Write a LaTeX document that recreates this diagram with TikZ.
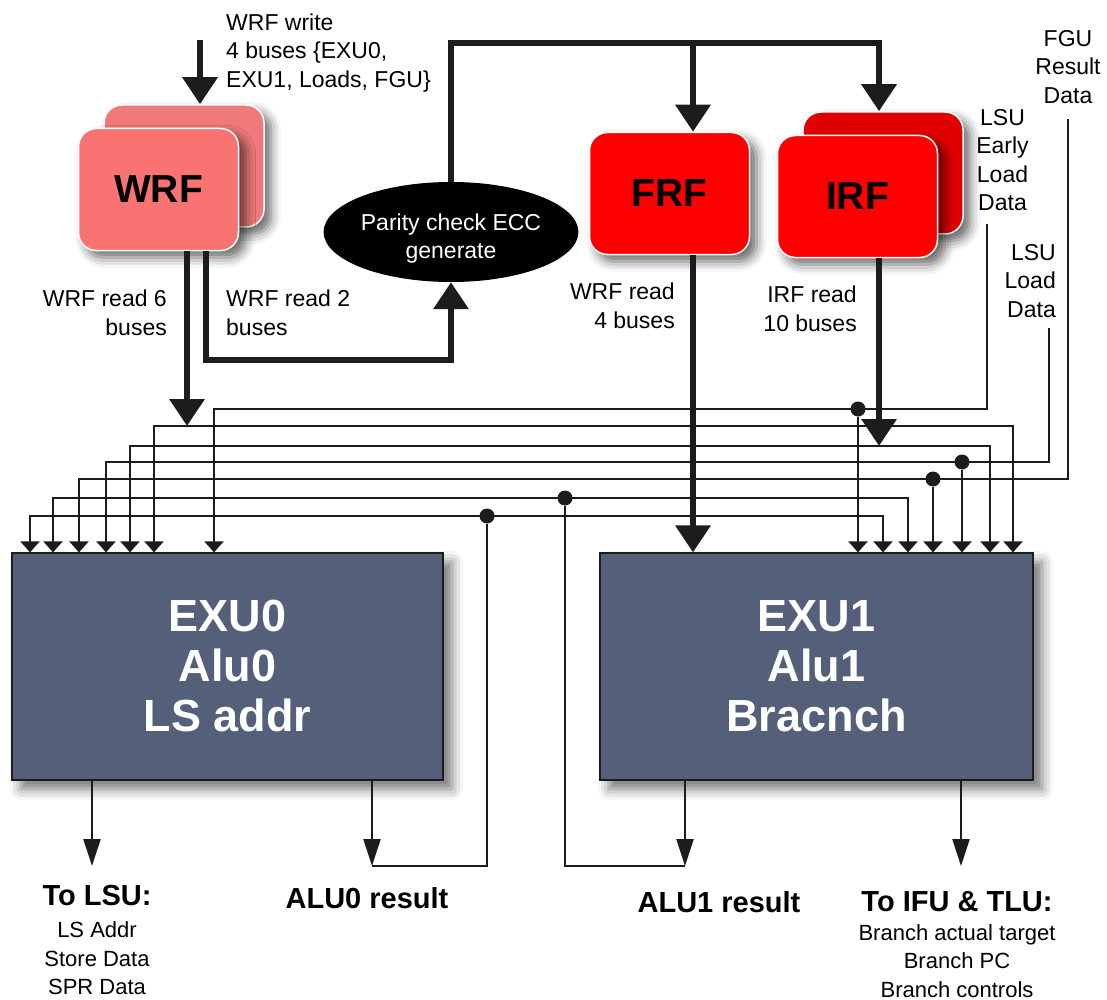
\documentclass[tikz,border=0pt]{standalone}
\usepackage{fontspec}
\setmainfont{Liberation Sans}
\usetikzlibrary{arrows.meta,shapes.geometric,shadows.blur}

\definecolor{ink}{RGB}{28,28,28}
\definecolor{wrffront}{RGB}{250,115,115}
\definecolor{wrfback}{RGB}{240,122,122}
\definecolor{rfred}{RGB}{255,0,0}
\definecolor{rfback}{RGB}{225,0,0}
\definecolor{exublue}{RGB}{84,96,121}

\begin{document}
\begin{tikzpicture}[x=1pt,y=-1pt,
  rf/.style={rounded corners=18pt, draw=white, line width=1.5pt, minimum width=160pt, minimum height=122pt,
    font=\fontsize{39}{44}\selectfont\bfseries,
    blur shadow={shadow xshift=7pt, shadow yshift=-7pt, shadow blur radius=10pt, shadow opacity=60}},
  exu/.style={draw=ink, line width=1.2pt, fill=exublue, text=white, minimum height=227pt, align=center,
    font=\fontsize{45}{50}\selectfont\bfseries,
    blur shadow={shadow xshift=9pt, shadow yshift=-9pt, shadow blur radius=11pt, shadow opacity=55}},
  lbl/.style={inner sep=0pt, font=\fontsize{23}{28.5}\selectfont},
  small/.style={inner sep=0pt, align=center, font=\fontsize{22}{28.5}\selectfont},
  head/.style={inner sep=0pt, font=\fontsize{29}{34}\selectfont\bfseries},
  big/.style={draw=ink, line width=6.5pt, -{Triangle[width=34pt,length=27pt]}},
  bus/.style={draw=ink, line width=2.2pt},
  busin/.style={bus, -{Triangle[width=19pt,length=11pt]}},
  busboth/.style={bus, {Triangle[width=19pt,length=11pt]}-{Triangle[width=19pt,length=11pt]}},
  outarr/.style={bus, -{Triangle[width=17pt,length=27pt]}},
  dot/.style={circle, fill=ink, inner sep=0pt, minimum size=15pt}]

  \useasboundingbox (0,0) rectangle (1107,1000);

  % register files
  \node[rf, fill=wrfback] (wrfback) at (184,166) {};
  \node[rf, fill=wrffront] (wrf) at (158.5,189.5) {WRF};
  \node[rf, fill=rfred] (frf) at (669.5,193.5) {FRF};
  \node[rf, fill=rfback] (irfback) at (883,173) {};
  \node[rf, fill=rfred] (irf) at (857.5,196.5) {IRF};
  \node[ellipse, fill=black, text=white, minimum width=220pt, minimum height=100pt, inner sep=0pt,
    align=center, font=\fontsize{23}{28.5}\selectfont] (parity) at (451,232)
    {\rule{0pt}{30pt}Parity check ECC\\generate};

  % execution units
  \node[exu, minimum width=431pt] (exu0) at (227.5,666.5) {EXU0\\Alu0\\LS addr};
  \node[exu, minimum width=433pt] (exu1) at (816.5,666.5) {EXU1\\Alu1\\Bracnch};

  % labels
  \node[lbl, align=left, anchor=west] (wrfwrite) at (226,53) {WRF write\\4 buses \{EXU0,\\EXU1, Loads, FGU\}};
  \node[lbl, align=right, anchor=east] (wrfread6) at (167,313) {WRF read 6\\buses};
  \node[lbl, align=left, anchor=west] (wrfread2) at (226,313) {WRF read 2\\buses};
  \node[lbl, align=right, anchor=east] (frfread) at (675,306) {WRF read\\4 buses};
  \node[lbl, align=right, anchor=east] (irfread) at (857,309) {IRF read\\10 buses};
  \node[lbl, align=center] (fgulbl) at (1068,67) {FGU\\Result\\Data};
  \node[lbl, align=center] (lsuelbl) at (1002.5,160) {LSU\\Early\\Load\\Data};
  \node[lbl, align=right, anchor=east] (lsullbl) at (1056,281) {LSU\\Load\\Data};

  \node[head] (tolsulbl) at (97,896) {To LSU:};
  \node[small] (lsulist) at (97,958.5) {LS Addr\\Store Data\\SPR Data};
  \node[head] (alu0lbl) at (367,898) {ALU0 result};
  \node[head] (alu1lbl) at (719,902) {ALU1 result};
  \node[head] (toifulbl) at (957,902) {To IFU \& TLU:};
  \node[small] (ifulist) at (957,961) {Branch actual target\\Branch PC\\Branch controls};

  % bus corners
  \coordinate (l1) at (214,409);
  \coordinate (l2) at (154,426);
  \coordinate (l3) at (130,446);
  \coordinate (l4) at (106,462);
  \coordinate (l5) at (79,479);
  \coordinate (l6) at (53,498);
  \coordinate (l7) at (30,516);
  \coordinate (r2) at (1013,426);
  \coordinate (r3) at (990,446);
  \coordinate (r6) at (908,498);
  \coordinate (r7) at (883,516);
  \coordinate (lsue) at (987,224);
  \coordinate (lsul) at (1049,328);
  \coordinate (fgu) at (1068,119);

  \node[dot] (d1) at (858,409) {};
  \node[dot] (d4) at (962,462) {};
  \node[dot] (d5) at (933,479) {};
  \node[dot] (d6) at (565,498) {};
  \node[dot] (d7) at (487,516) {};

  \draw[busin] (lsue) |- (l1) -- (l1 |- exu0.north);
  \draw[busboth] (l2 |- exu0.north) -- (l2) -- (r2) -- (r2 |- exu1.north);
  \draw[busboth] (l3 |- exu0.north) -- (l3) -- (r3) -- (r3 |- exu1.north);
  \draw[busin] (lsul) |- (l4) -- (l4 |- exu0.north);
  \draw[busin] (fgu) |- (l5) -- (l5 |- exu0.north);
  \draw[busboth] (l6 |- exu0.north) -- (l6) -- (r6) -- (r6 |- exu1.north);
  \draw[busboth] (l7 |- exu0.north) -- (l7) -- (r7) -- (r7 |- exu1.north);
  \draw[busin] (d1) -- (d1 |- exu1.north);
  \draw[busin] (d4) -- (d4 |- exu1.north);
  \draw[busin] (d5) -- (d5 |- exu1.north);

  % outputs
  \coordinate (tolsu) at (92,866);
  \coordinate (alu0) at (372,866);
  \coordinate (alu1) at (685,866);
  \coordinate (toifu) at (961,866);
  \draw[outarr] (tolsu |- exu0.south) -- (tolsu);
  \draw[outarr] (alu0 |- exu0.south) -- (alu0);
  \draw[outarr] (alu1 |- exu1.south) -- (alu1);
  \draw[outarr] (toifu |- exu1.south) -- (toifu);
  \draw[bus] (d7) |- (alu0);
  \draw[bus] (d6) |- (alu1);

  % wide paths
  \coordinate (wrfin) at (200,40);
  \coordinate (w6) at (187,426);
  \coordinate (w2) at (206,360);
  \coordinate (ftop) at (693,43);
  \coordinate (itop) at (879,43);
  \draw[big] (wrfin) -- (wrfin |- wrfback.north);
  \draw[big] (w6 |- wrf.south) -- (w6);
  \draw[big] (w2 |- wrf.south) -- (w2) -| (parity.south);
  \draw[big] (parity.north) |- (itop) -- (itop |- irfback.north);
  \draw[big] (ftop) -- (ftop |- frf.north);
  \draw[big] (ftop |- frf.south) -- (ftop |- exu1.north);
  \draw[big] (itop |- irf.south) -- (itop |- l3);
\end{tikzpicture}
\end{document}
